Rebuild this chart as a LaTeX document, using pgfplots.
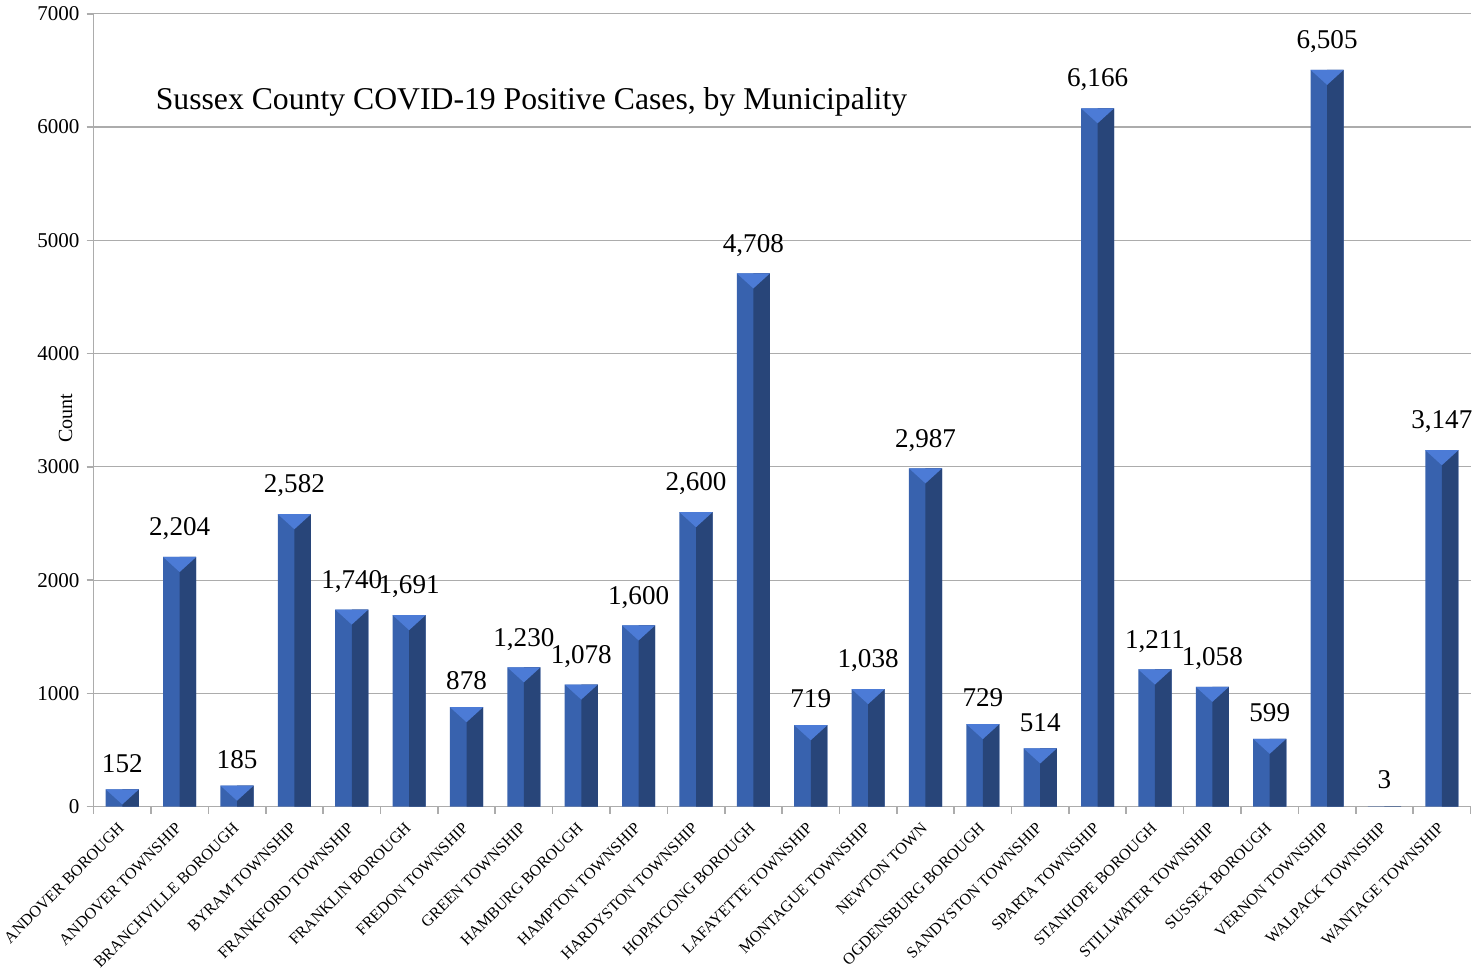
\documentclass[border=0pt]{standalone}
\usepackage{pgfplots}
\usepackage{pgfplotstable}
\pgfplotsset{compat=1.18}
\usepackage{fontspec}
\setmainfont{Liberation Serif}

\definecolor{barlight}{HTML}{3862AE}
\definecolor{bardark}{HTML}{284579}
\definecolor{bartop}{HTML}{4C7BD6}

% top bevel of each bar
\pgfdeclareplotmark{bevel}{%
  \pgfpathmoveto{\pgfqpoint{-8.25pt}{0pt}}%
  \pgfpathlineto{\pgfqpoint{8.25pt}{0pt}}%
  \pgfpathlineto{\pgfqpoint{0pt}{-7.5pt}}%
  \pgfpathclose
  \pgfusepathqfill}

\pgfplotstableread{
x y
0 152
1 2204
2 185
3 2582
4 1740
5 1691
6 878
7 1230
8 1078
9 1600
10 2600
11 4708
12 719
13 1038
14 2987
15 729
16 514
17 6166
18 1211
19 1058
20 599
21 6505
22 3
23 3147
}\cases

\begin{document}
\begin{tikzpicture}
\begin{axis}[
  scale only axis,
  width=686pt, height=395pt,
  xmin=-0.5, xmax=23.5,
  ymin=0, ymax=7000,
  axis x line*=bottom, axis y line*=left,
  axis line style={draw=gray!65, line width=0.8pt},
  ytick distance=1000,
  ymajorgrids,
  grid style={draw=gray!65, line width=0.6pt},
  tick align=outside,
  major tick length=3.5pt,
  tick style={draw=gray!65, line width=0.8pt},
  xtick={-0.5,0.5,...,23.5},
  x tick label as interval,
  xticklabels={ANDOVER BOROUGH, ANDOVER TOWNSHIP, BRANCHVILLE BOROUGH, BYRAM TOWNSHIP,
    FRANKFORD TOWNSHIP, FRANKLIN BOROUGH, FREDON TOWNSHIP, GREEN TOWNSHIP,
    HAMBURG BOROUGH, HAMPTON TOWNSHIP, HARDYSTON TOWNSHIP, HOPATCONG BOROUGH,
    LAFAYETTE TOWNSHIP, MONTAGUE TOWNSHIP, NEWTON TOWN, OGDENSBURG BOROUGH,
    SANDYSTON TOWNSHIP, SPARTA TOWNSHIP, STANHOPE BOROUGH, STILLWATER TOWNSHIP,
    SUSSEX BOROUGH, VERNON TOWNSHIP, WALPACK TOWNSHIP, WANTAGE TOWNSHIP},
  x tick label style={rotate=45, anchor=north east, font=\fontsize{8}{9}\selectfont, inner sep=1pt, xshift=-3.5pt},
  y tick label style={font=\fontsize{10.5}{12}\selectfont},
  /pgf/number format/assume math mode=true,
  yticklabel style={/pgf/number format/1000 sep={}},
  ylabel={Count},
  every axis y label/.style={at={(axis description cs:-0.0204,0.49)}, rotate=90, anchor=center,
    font=\fontsize{10}{12}\selectfont},
  clip=false,
]
% main bar (left face)
\addplot[ybar, bar width=16.5pt, bar shift=0pt, fill=barlight, draw=none,
  nodes near coords,
  nodes near coords style={font=\fontsize{13.5}{15}\selectfont, anchor=south, yshift=5pt,
    /pgf/number format/1000 sep={,}, text=black}]
  table[x=x, y=y] {\cases};
% right face
\addplot[ybar, bar width=8.25pt, bar shift=4.125pt, fill=bardark, draw=none]
  table[x=x, y=y] {\cases};
% top bevel
\addplot[only marks, mark=bevel, color=bartop, restrict y to domain=10:8000]
  table[x=x, y=y] {\cases};

\node[anchor=west, font=\fontsize{15.8}{18}\selectfont] at (rel axis cs:0.04,0.889)
  {Sussex County COVID-19 Positive Cases, by Municipality};
\end{axis}
\end{tikzpicture}
\end{document}
